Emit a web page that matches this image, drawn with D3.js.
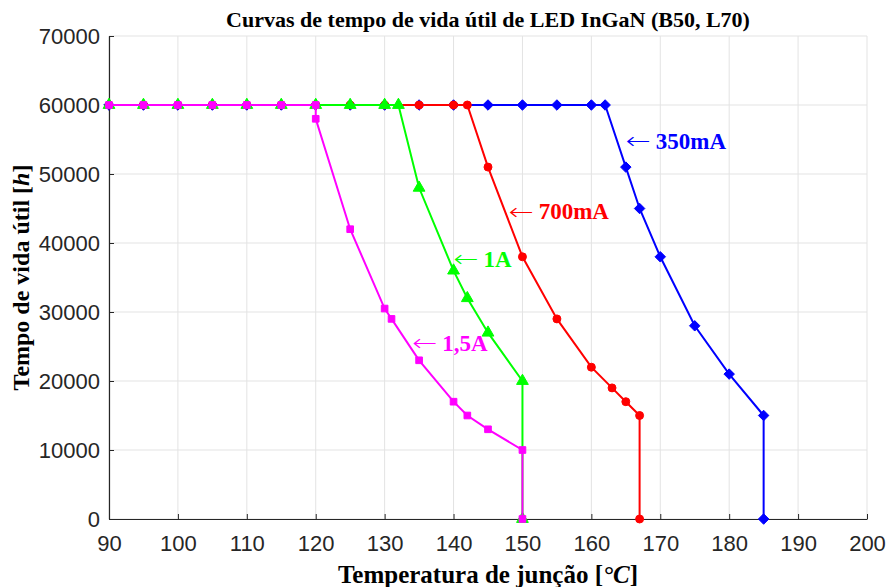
<!DOCTYPE html>
<html lang="pt">
<head>
  <meta charset="UTF-8">
  <title>Curvas de tempo de vida útil</title>
  <script src="https://d3js.org/d3.v7.min.js"></script>
  <style>
    body { margin: 0; background: #fff; }
    .tick text { font-family: "Liberation Sans", Arial, sans-serif; font-size: 22px; fill: #262626; }
    .lbl { font-family: "Liberation Serif", "Times New Roman", serif; font-weight: bold; }
    .arrow { font-family: "DejaVu Sans", sans-serif; font-weight: 200; }
  </style>
</head>
<body>
  <svg></svg>
  <script>
    // temperaturas (°C) e vida útil (h) para cada corrente
    const t350 = [90, 95, 100, 105, 110, 115, 120, 125, 130, 135, 140, 145, 150, 155, 160, 162, 165, 167, 170, 175, 180, 185, 185];
    const h350 = [60000, 60000, 60000, 60000, 60000, 60000, 60000, 60000, 60000, 60000, 60000, 60000, 60000, 60000, 60000, 60000, 51000, 45000, 38000, 28000, 21000, 15000, 0];

    const t700 = [90, 95, 100, 105, 110, 115, 120, 125, 130, 135, 140, 142, 145, 150, 155, 160, 163, 165, 167, 167];
    const h700 = [60000, 60000, 60000, 60000, 60000, 60000, 60000, 60000, 60000, 60000, 60000, 60000, 51000, 38000, 29000, 22000, 19000, 17000, 15000, 0];

    const t1A = [90, 95, 100, 105, 110, 115, 120, 125, 130, 132, 135, 140, 142, 145, 150, 150];
    const h1A = [60000, 60000, 60000, 60000, 60000, 60000, 60000, 60000, 60000, 60000, 48000, 36000, 32000, 27000, 20000, 0];

    const t15A = [90, 95, 100, 105, 110, 115, 120, 120, 125, 130, 131, 135, 140, 142, 145, 150, 150];
    const h15A = [60000, 60000, 60000, 60000, 60000, 60000, 60000, 58000, 42000, 30500, 29000, 23000, 17000, 15000, 13000, 10000, 0];

    const xTicks = [90, 100, 110, 120, 130, 140, 150, 160, 170, 180, 190, 200];
    const yTicks = [0, 10000, 20000, 30000, 40000, 50000, 60000, 70000];

    const series = [
      { name: "350mA", t: t350, h: h350, color: "#0000ff", marker: "diamond", lx: 165, ly: 54800 },
      { name: "700mA", t: t700, h: h700, color: "#ff0000", marker: "circle", lx: 148, ly: 44600 },
      { name: "1A", t: t1A, h: h1A, color: "#00ff00", marker: "triangle", lx: 140, ly: 37700 },
      { name: "1,5A", t: t15A, h: h15A, color: "#ff00ff", marker: "square", lx: 134, ly: 25500 }
    ];

    const width = 887, height = 587;
    const margin = { top: 36, right: 20, bottom: 68, left: 109 };

    const svg = d3.select("svg").attr("width", width).attr("height", height);

    const x = d3.scaleLinear().domain([90, 200]).range([margin.left, width - margin.right]);
    const y = d3.scaleLinear().domain([0, 70000]).range([height - margin.bottom, margin.top]);

    // grade
    const grid = svg.append("g");
    grid.selectAll("line.vx").data(xTicks).enter().append("line")
      .attr("x1", d => x(d)).attr("x2", d => x(d))
      .attr("y1", y(0)).attr("y2", y(70000))
      .attr("stroke", "#e3e3e3").attr("stroke-width", 1);
    grid.selectAll("line.hy").data(yTicks).enter().append("line")
      .attr("x1", x(90)).attr("x2", x(200))
      .attr("y1", d => y(d)).attr("y2", d => y(d))
      .attr("stroke", "#e3e3e3").attr("stroke-width", 1);

    // eixos (ticks para dentro)
    const xAxis = d3.axisBottom(x).tickValues(xTicks).tickSizeInner(-5).tickSizeOuter(0).tickPadding(16);
    const yAxis = d3.axisLeft(y).tickValues(yTicks).tickFormat(d3.format("d")).tickSizeInner(-5).tickSizeOuter(0).tickPadding(9);

    const gx = svg.append("g").attr("transform", `translate(0,${y(0)})`).call(xAxis);
    const gy = svg.append("g").attr("transform", `translate(${x(90)},0)`).call(yAxis);
    [gx, gy].forEach(g => {
      g.select(".domain").attr("stroke", "#262626").attr("stroke-width", 1.2);
      g.selectAll(".tick line").attr("stroke", "#262626");
    });

    const line = d3.line().x(d => x(d[0])).y(d => y(d[1]));

    const symbols = {
      diamond: d3.symbol().type(d3.symbolDiamond2).size(70),
      circle: d3.symbol().type(d3.symbolCircle).size(50),
      triangle: d3.symbol().type(d3.symbolTriangle).size(60),
      square: d3.symbol().type(d3.symbolSquare).size(44)
    };

    series.forEach(s => {
      const pts = s.t.map((t, i) => [t, s.h[i]]);
      const g = svg.append("g");
      g.append("path").datum(pts)
        .attr("d", line)
        .attr("fill", "none")
        .attr("stroke", s.color)
        .attr("stroke-width", 2);
      g.selectAll("path.m").data(pts).enter().append("path")
        .attr("d", symbols[s.marker])
        .attr("transform", d => `translate(${x(d[0])},${y(d[1])})`)
        .attr("fill", s.color)
        .attr("stroke", s.color)
        .attr("stroke-width", 1);
    });

    // rótulos das curvas
    series.forEach(s => {
      svg.append("text")
        .attr("class", "arrow")
        .attr("transform", `translate(${x(s.lx)},${y(s.ly)}) scale(1.25,1)`)
        .attr("dy", "0.35em")
        .attr("fill", s.color)
        .attr("font-size", 24)
        .text("\u2190");
      svg.append("text")
        .attr("class", "lbl")
        .attr("x", x(s.lx) + 30)
        .attr("y", y(s.ly))
        .attr("dy", "0.35em")
        .attr("fill", s.color)
        .attr("font-size", 23)
        .text(s.name);
    });

    // título
    svg.append("text")
      .attr("class", "lbl")
      .attr("x", (x(90) + x(200)) / 2)
      .attr("y", 27)
      .attr("text-anchor", "middle")
      .attr("font-size", 22)
      .attr("fill", "#000")
      .text("Curvas de tempo de vida útil de LED InGaN (B50, L70)");

    // rótulo eixo x
    const xl = svg.append("text")
      .attr("class", "lbl")
      .attr("x", (x(90) + x(200)) / 2)
      .attr("y", 583)
      .attr("text-anchor", "middle")
      .attr("font-size", 25)
      .attr("fill", "#000");
    xl.append("tspan").text("Temperatura de junção [");
    xl.append("tspan").attr("font-style", "italic").text("°C");
    xl.append("tspan").text("]");

    // rótulo eixo y
    const yl = svg.append("text")
      .attr("class", "lbl")
      .attr("transform", `translate(29,${(y(0) + y(70000)) / 2}) rotate(-90)`)
      .attr("text-anchor", "middle")
      .attr("font-size", 24)
      .attr("fill", "#000");
    yl.append("tspan").text("Tempo de vida útil [");
    yl.append("tspan").attr("font-style", "italic").text("h");
    yl.append("tspan").text("]");
  </script>
</body>
</html>
